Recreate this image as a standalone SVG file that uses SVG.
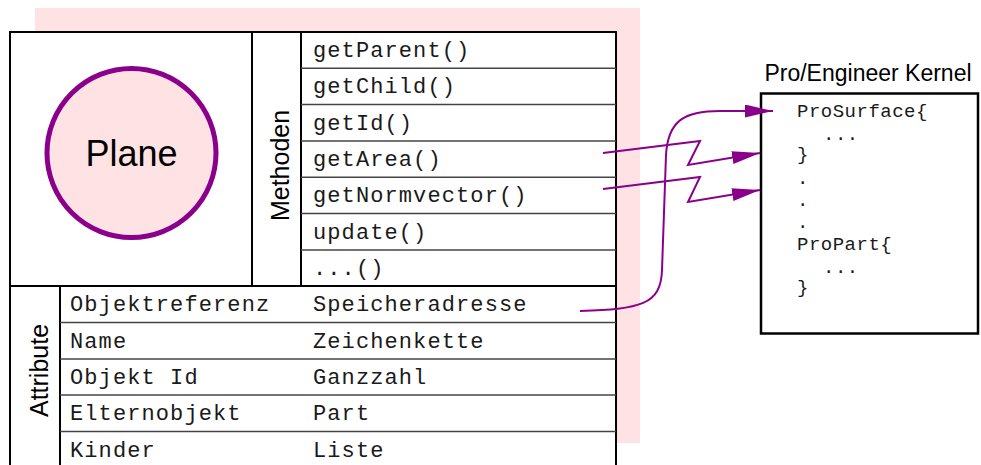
<svg xmlns="http://www.w3.org/2000/svg" width="981" height="465" viewBox="0 0 981 465">
<style>
.ln{stroke:#000;stroke-width:2;fill:none}
.box{stroke:#000;stroke-width:2;fill:#fff}
.rl{stroke:#444;stroke-width:1.5;fill:none}
.mono{font-family:"Liberation Mono","Courier New",monospace;font-size:22px;letter-spacing:1.1px;fill:#1a1a1a}
.kmono{font-family:"Liberation Mono","Courier New",monospace;font-size:19px;letter-spacing:0.5px;fill:#1a1a1a}
.sans{font-family:"Liberation Sans",Arial,sans-serif;fill:#000}
.conn{stroke:#8B008B;stroke-width:2;fill:none}
</style>
<defs>
<marker id="arr" markerUnits="userSpaceOnUse" markerWidth="30" markerHeight="14" refX="28" refY="6.5" orient="auto">
<path d="M0,0 L28,6.5 L0,13 z" fill="#8B008B"/>
</marker>
</defs>
<rect width="981" height="465" fill="#fff"/>
<rect x="35" y="8" width="605" height="435" fill="#FFE3E4"/>
<g id="plane-object">
<rect x="10" y="32" width="606" height="445" class="box"/>
<line x1="252" y1="32" x2="252" y2="286" class="ln"/>
<line x1="301" y1="32" x2="301" y2="286" class="ln"/>
<line x1="10" y1="286" x2="616" y2="286" class="ln"/>
<line x1="60" y1="286" x2="60" y2="470" class="ln"/>
</g>
<g id="plane-symbol">
<circle cx="131.5" cy="153" r="84.5" fill="#FFE3E4" stroke="#8B008B" stroke-width="5"/>
<text x="131.5" y="166" class="sans" font-size="36" text-anchor="middle">Plane</text>
</g>
<g id="methods">
<text transform="translate(289,165.5) rotate(-90)" class="sans" font-size="25" text-anchor="middle">Methoden</text>
<line x1="301" y1="68.3" x2="616" y2="68.3" class="rl"/>
<line x1="301" y1="104.6" x2="616" y2="104.6" class="rl"/>
<line x1="301" y1="141" x2="616" y2="141" class="rl"/>
<line x1="301" y1="177.3" x2="616" y2="177.3" class="rl"/>
<line x1="301" y1="213.6" x2="616" y2="213.6" class="rl"/>
<line x1="301" y1="250" x2="616" y2="250" class="rl"/>
<text x="313" y="57" class="mono">getParent()</text>
<text x="313" y="93.3" class="mono">getChild()</text>
<text x="313" y="129.6" class="mono">getId()</text>
<text x="313" y="166" class="mono">getArea()</text>
<text x="313" y="202.3" class="mono">getNormvector()</text>
<text x="313" y="238.6" class="mono">update()</text>
<text x="313" y="275" class="mono">...()</text>
</g>
<g id="attributes">
<text transform="translate(48,370.5) rotate(-90)" class="sans" font-size="25" text-anchor="middle">Attribute</text>
<line x1="60" y1="322.5" x2="616" y2="322.5" class="rl"/>
<line x1="60" y1="359" x2="616" y2="359" class="rl"/>
<line x1="60" y1="395" x2="616" y2="395" class="rl"/>
<line x1="60" y1="431.5" x2="616" y2="431.5" class="rl"/>
<text x="70" y="311" class="mono">Objektreferenz</text>
<text x="313" y="311" class="mono">Speicheradresse</text>
<text x="70" y="347.5" class="mono">Name</text>
<text x="313" y="347.5" class="mono">Zeichenkette</text>
<text x="70" y="384" class="mono">Objekt Id</text>
<text x="313" y="384" class="mono">Ganzzahl</text>
<text x="70" y="420" class="mono">Elternobjekt</text>
<text x="313" y="420" class="mono">Part</text>
<text x="70" y="456.5" class="mono">Kinder</text>
<text x="313" y="456.5" class="mono">Liste</text>
</g>
<g id="kernel">
<text x="868" y="81" class="sans" font-size="23" text-anchor="middle">Pro/Engineer Kernel</text>
<rect x="761" y="93.5" width="217" height="240" fill="#fff" stroke="#000" stroke-width="2.5"/>
<text x="797" y="117" class="kmono">ProSurface{</text>
<text x="823" y="140" class="kmono">...</text>
<text x="797" y="160" class="kmono">}</text>
<text x="797" y="184" class="kmono">.</text>
<text x="797" y="206" class="kmono">.</text>
<text x="797" y="228" class="kmono">.</text>
<text x="797" y="250" class="kmono">ProPart{</text>
<text x="823" y="273" class="kmono">...</text>
<text x="797" y="293" class="kmono">}</text>
</g>
<g id="connectors">
<path class="conn" d="M580,311 C640,309 661,305 662,270 L666,155 C668,120 685,111 720,111 L773,111" marker-end="url(#arr)"/>
<path class="conn" d="M603,153 L700,141 L688,165 L760,153" marker-end="url(#arr)"/>
<path class="conn" d="M603,189 L700,177 L688,202 L760,190" marker-end="url(#arr)"/>
</g>
</svg>
